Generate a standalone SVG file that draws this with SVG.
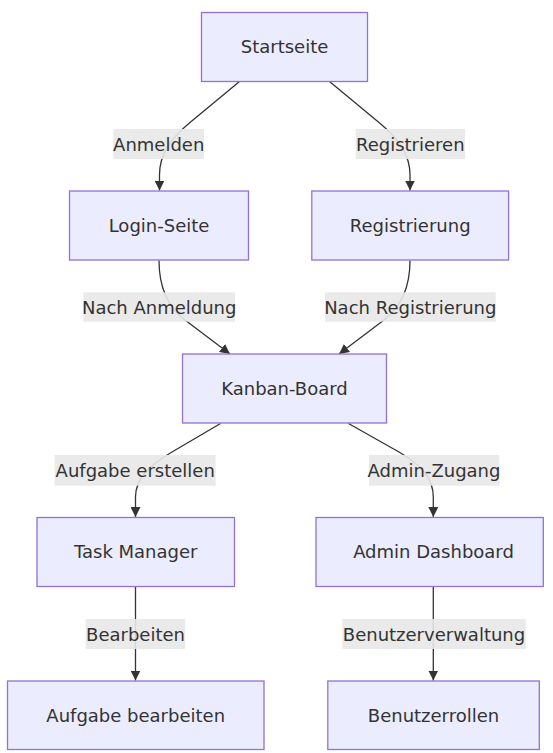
<svg xmlns="http://www.w3.org/2000/svg" width="553" height="753" viewBox="0 0 553 753">
<defs>
<style>
.node rect{fill:#ECECFF;stroke:#9370DB;stroke-width:1.3px;}
.node text,.lbl text{font-family:"DejaVu Sans",sans-serif;font-size:18px;fill:#333333;text-anchor:middle;}
.edge{fill:none;stroke:#333333;stroke-width:1.3px;marker-end:url(#arrow);}
.lbl rect{fill:rgba(232,232,232,0.9);}
</style>
<marker id="arrow" viewBox="0 0 10 10" refX="10" refY="5" markerWidth="10" markerHeight="10" markerUnits="userSpaceOnUse" orient="auto">
<path d="M0,0 L10,5 L0,10 z" fill="#333333"/>
</marker>
</defs>
<rect width="553" height="753" fill="#ffffff"/>
<g id="connectors">
<path class="edge" d="M239.5,81.5 L190,122.5 C170,139 159.5,155 159.5,175 L159.5,190.5"/>
<path class="edge" d="M329.5,81.5 L379,122.5 C399,139 410,155 410,175 L410,190.5"/>
<path class="edge" d="M159,260.5 C159,292 170.5,309 185,320 L230,354"/>
<path class="edge" d="M410,260.5 C410,292 398.5,309 384,320 L339,354"/>
<path class="edge" d="M220.5,423.5 L172,452 C150,465 135.5,478 135.5,497 L135.5,517"/>
<path class="edge" d="M348.5,423.5 L399,452 C421,465 433.3,478 433.3,497 L433.3,517"/>
<path class="edge" d="M135.5,586.5 L135.5,680.5"/>
<path class="edge" d="M433.3,586.5 L433.3,680.5"/>
</g>
<g id="edge-labels">
<g class="lbl"><rect x="113.3" y="129" width="90.7" height="30"/><text x="158.7" y="150.5">Anmelden</text></g>
<g class="lbl"><rect x="355.7" y="129" width="109.3" height="30"/><text x="410.3" y="150.5">Registrieren</text></g>
<g class="lbl"><rect x="83.3" y="292.3" width="151.7" height="29.4"/><text x="159.2" y="313.5">Nach Anmeldung</text></g>
<g class="lbl"><rect x="325" y="292.3" width="170.7" height="29.4"/><text x="410.3" y="313.5">Nach Registrierung</text></g>
<g class="lbl"><rect x="54.7" y="455" width="160.9" height="30.7"/><text x="135.2" y="477">Aufgabe erstellen</text></g>
<g class="lbl"><rect x="369" y="455" width="130.3" height="30.7"/><text x="434" y="477">Admin-Zugang</text></g>
<g class="lbl"><rect x="85.7" y="619" width="99.5" height="30"/><text x="135.5" y="640.5">Bearbeiten</text></g>
<g class="lbl"><rect x="342.3" y="619" width="183.4" height="30"/><text x="434" y="640.5">Benutzerverwaltung</text></g>
</g>
<g id="startseite" class="node"><rect x="201.5" y="12.5" width="166" height="69"/><text x="284.5" y="53.3">Startseite</text></g>
<g id="login" class="node"><rect x="69.5" y="191" width="179" height="69"/><text x="159" y="231.8">Login-Seite</text></g>
<g id="registrierung" class="node"><rect x="311.8" y="191" width="196.8" height="69"/><text x="410.2" y="231.8">Registrierung</text></g>
<g id="kanban" class="node"><rect x="182.5" y="354" width="204" height="69"/><text x="284.5" y="395">Kanban-Board</text></g>
<g id="taskmanager" class="node"><rect x="37" y="517.5" width="197.5" height="69"/><text x="135.7" y="558.3">Task Manager</text></g>
<g id="admindashboard" class="node"><rect x="316" y="517.5" width="227.3" height="69"/><text x="433.5" y="558.3">Admin Dashboard</text></g>
<g id="aufgabebearbeiten" class="node"><rect x="7.5" y="681" width="256.5" height="68.5"/><text x="135.7" y="721.5">Aufgabe bearbeiten</text></g>
<g id="benutzerrollen" class="node"><rect x="327.8" y="681" width="211.5" height="68.5"/><text x="433.5" y="721.5">Benutzerrollen</text></g>
</svg>
